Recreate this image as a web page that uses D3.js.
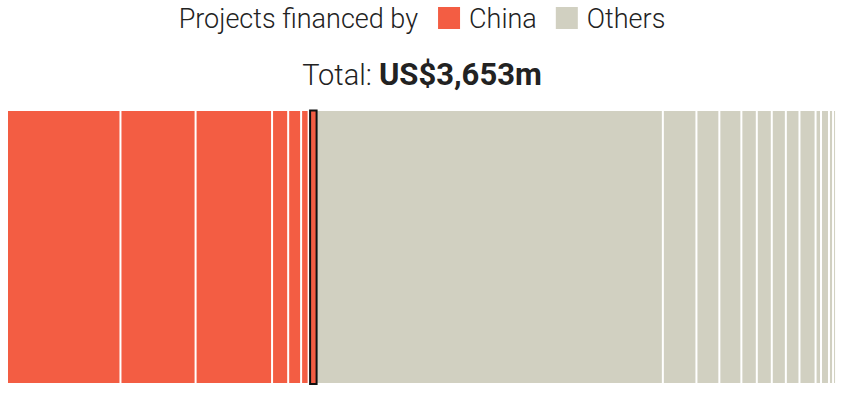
<!DOCTYPE html>
<html>
<head>
<meta charset="utf-8">
<script src="https://cdn.jsdelivr.net/npm/d3@7"></script>
<style>
  html, body { margin: 0; padding: 0; background: #fff; }
  svg { display: block; font-family: Roboto, "Noto Sans", sans-serif; }
</style>
</head>
<body>
<svg id="chart" width="844" height="394"></svg>
<script>
// Data (US$ m)
const groups = ["China", "Others"];
const chinaValues = [500, 331, 337, 71, 57, 33, 33];
const othersValues = [1528, 148, 101, 97, 68, 66, 62, 60, 71, 24, 35, 18, 13];
const highlightIndex = 6; // index of highlighted China project
const totalLabel = "US$3,653m";

const colors = { China: "#f35d43", Others: "#d1d0c1" };

const svg = d3.select("#chart");
const W = 844;

const projects = [];
chinaValues.forEach((v, i) => projects.push({ group: "China", value: v, highlight: i === highlightIndex }));
othersValues.forEach(v => projects.push({ group: "Others", value: v, highlight: false }));
let acc = 0;
projects.forEach(p => { p.x0 = acc; acc += p.value; p.x1 = acc; });
const total = acc;

const x = d3.scaleLinear().domain([0, total]).range([8, 837]);
const y0 = 111, y1 = 383;
const gap = 2;

svg.append("g").selectAll("rect")
  .data(projects.filter(p => !p.highlight))
  .join("rect")
  .attr("x", d => x(d.x0))
  .attr("y", y0)
  .attr("width", d => Math.max(1, x(d.x1) - x(d.x0) - gap))
  .attr("height", y1 - y0)
  .attr("fill", d => colors[d.group]);

svg.append("g").selectAll("rect")
  .data(projects.filter(p => p.highlight))
  .join("rect")
  .attr("x", d => x(d.x0) + 0.5)
  .attr("y", y0 - 0.5)
  .attr("width", d => Math.max(1, x(d.x1) - x(d.x0) - 1))
  .attr("height", y1 - y0 + 1.5)
  .attr("fill", d => colors[d.group])
  .attr("stroke", "#111")
  .attr("stroke-width", 2);

// Legend
const legend = svg.append("g");
const fs = 27;
const t0 = legend.append("text").attr("y", 28).attr("font-size", fs).attr("font-weight", 300)
  .attr("fill", "#222").text("Projects financed by");
let cx = t0.node().getComputedTextLength() + 20;
groups.forEach((g, i) => {
  legend.append("rect").attr("x", cx).attr("y", 7).attr("width", 22).attr("height", 22).attr("fill", colors[g]);
  cx += 22 + 9;
  const t = legend.append("text").attr("x", cx).attr("y", 28).attr("font-size", fs).attr("font-weight", 300)
    .attr("fill", "#222").text(g);
  cx += t.node().getComputedTextLength();
  if (i < groups.length - 1) cx += 19;
});
legend.attr("transform", `translate(${(W - cx) / 2},0)`);

// Total
const tt = svg.append("text").attr("x", W / 2).attr("y", 85).attr("text-anchor", "middle").attr("fill", "#222");
tt.append("tspan").attr("font-size", 29).attr("font-weight", 300).text("Total: ");
tt.append("tspan").attr("font-size", 31).attr("font-weight", 700).text(totalLabel);
</script>
</body>
</html>
